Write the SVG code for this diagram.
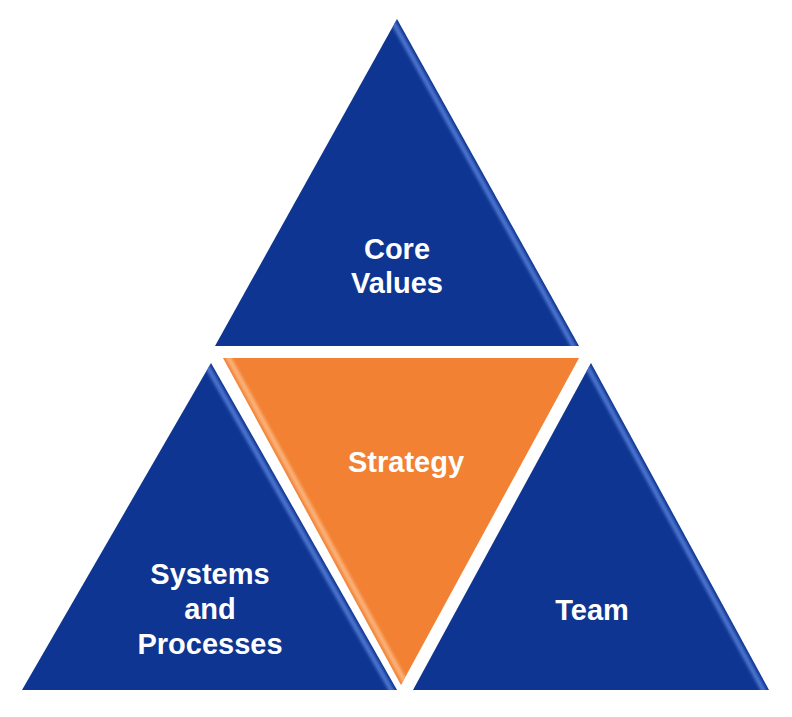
<svg xmlns="http://www.w3.org/2000/svg" width="792" height="717" viewBox="0 0 792 717">
  <style>
    .blue { fill: #0E3591; }
    .orange { fill: #F28133; }
    .hlb { stroke: #4C75CF; stroke-width: 5; fill: none; filter: url(#soft); }
    .hlb2 { stroke: #2E55B3; stroke-width: 3; fill: none; filter: url(#soft); opacity: 0.7; }
    .hlo { stroke: #FBB27A; stroke-width: 5; fill: none; filter: url(#soft); }
    .hlo2 { stroke: #F7A060; stroke-width: 3; fill: none; filter: url(#soft); opacity: 0.6; }
    .lbl { font-family: "Liberation Sans", Arial, sans-serif; font-weight: bold; font-size: 29px; fill: #FFFFFF; text-anchor: middle; }
  </style>
  <defs>
    <filter id="soft" x="-10%" y="-10%" width="120%" height="120%">
      <feGaussianBlur stdDeviation="1.6"/>
    </filter>
    <clipPath id="cTop"><polygon points="397,19 215,346 579,346"/></clipPath>
    <clipPath id="cMid"><polygon points="223,358 579,358 401,685"/></clipPath>
    <clipPath id="cLeft"><polygon points="211,363 22,690 397,690"/></clipPath>
    <clipPath id="cRight"><polygon points="591,363 413,690 769,690"/></clipPath>
  </defs>

  <g id="core-values">
    <polygon class="blue" points="397,19 215,346 579,346"/>
    <g clip-path="url(#cTop)">
      <line class="hlb" x1="392.6" y1="21.4" x2="574.6" y2="348.4"/>
      <line class="hlb2" x1="215" y1="342" x2="579" y2="342"/>
    </g>
    <text class="lbl" x="397" y="259">Core</text>
    <text class="lbl" x="397" y="293">Values</text>
  </g>

  <g id="strategy">
    <polygon class="orange" points="223,358 579,358 401,685"/>
    <g clip-path="url(#cMid)">
      <line class="hlo" x1="227.4" y1="355.6" x2="405.4" y2="682.6"/>
      <line class="hlo2" x1="223" y1="362" x2="579" y2="362"/>
    </g>
    <text class="lbl" x="406" y="472">Strategy</text>
  </g>

  <g id="systems-and-processes">
    <polygon class="blue" points="211,363 22,690 397,690"/>
    <g clip-path="url(#cLeft)">
      <line class="hlb" x1="206.7" y1="365.5" x2="392.7" y2="692.5"/>
      <line class="hlb2" x1="22" y1="686" x2="397" y2="686"/>
    </g>
    <text class="lbl" x="210" y="584">Systems</text>
    <text class="lbl" x="210" y="619">and</text>
    <text class="lbl" x="210" y="654">Processes</text>
  </g>

  <g id="team">
    <polygon class="blue" points="591,363 413,690 769,690"/>
    <g clip-path="url(#cRight)">
      <line class="hlb" x1="586.6" y1="365.4" x2="764.6" y2="692.4"/>
      <line class="hlb2" x1="413" y1="686" x2="769" y2="686"/>
    </g>
    <text class="lbl" x="592" y="620">Team</text>
  </g>

  <g id="connectors"></g>
</svg>
